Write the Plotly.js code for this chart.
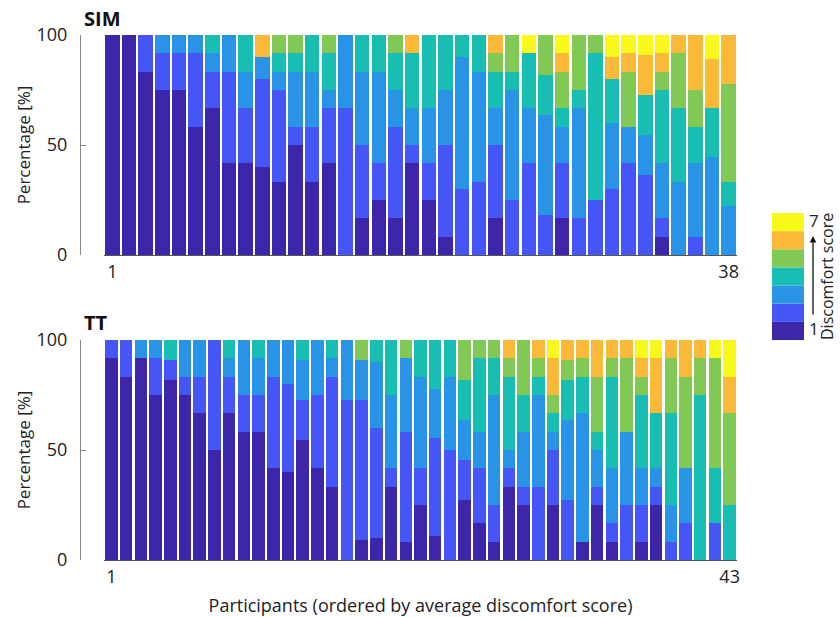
<!DOCTYPE html>
<html><head><meta charset="utf-8">
<script src="https://cdn.plot.ly/plotly-3.0.1.min.js"></script>
<style>html,body{margin:0;padding:0;background:#fff}#chart{width:840px;height:617px}</style>
</head><body><div id="chart"></div>
<script>
// Discomfort score categories (1 = lowest, 7 = highest)
const categories = ['1','2','3','4','5','6','7'];
const scoreColors = ['#3e26a8','#4655f5','#2994e6','#18bdb4','#82c855','#fbb93a','#f8f81a'];

// SIM: number of ratings per discomfort score, per participant (ordered)
const sim1 = [12,12,10,9,9,7,8,5,5,4, 4,6,4,5,0,2,3,2,5,3, 1,0,0,2,0,0,0,2,0,0, 0,0,0,1,0,0,0,0];
const sim2 = [0,0,2,2,2,4,2,5,3,4, 5,1,3,3,8,4,2,5,1,2, 5,3,4,4,3,5,2,3,2,3, 3,5,4,1,0,1,0,0];
const sim3 = [0,0,0,1,1,1,1,2,2,1, 1,3,3,1,4,4,5,2,2,3, 3,6,6,2,6,3,5,2,6,0, 3,2,2,3,4,4,4,2];
const sim4 = [0,0,0,0,0,0,1,0,2,0, 1,1,2,2,0,2,2,2,3,4, 3,1,2,2,1,3,2,1,1,8, 2,0,2,4,4,2,2,1];
const sim5 = [0,0,0,0,0,0,0,0,0,0, 1,1,0,1,0,0,0,1,0,0, 0,0,0,1,2,0,2,2,3,1, 0,3,0,1,3,2,0,4];
const sim6 = [0,0,0,0,0,0,0,0,0,1, 0,0,0,0,0,0,0,0,1,0, 0,0,0,1,0,0,0,1,0,0, 1,1,2,1,1,3,2,2];
const sim7 = [0,0,0,0,0,0,0,0,0,0, 0,0,0,0,0,0,0,0,0,0, 0,0,0,0,0,1,0,1,0,0, 1,1,1,1,0,0,1,0];

// TT: number of ratings per discomfort score, per participant (ordered)
const tt1 = [11,10,11,9,9,9,8,6,8,7, 7,5,4,6,5,4,0,1,1,4, 1,3,1,0,3,2,1,4,3,0, 3,0,1,3,1,0,1,3,0,0, 0,0,0];
const tt2 = [1,2,0,2,1,1,2,6,2,2, 2,5,4,2,4,6,8,7,5,1, 6,2,4,6,2,3,2,1,1,4, 3,3,0,1,1,3,2,1,1,2, 0,2,0];
const tt3 = [0,0,1,1,0,2,2,0,1,3, 2,2,2,2,3,1,3,2,3,4, 4,5,2,4,2,2,6,1,3,5, 1,4,7,2,3,4,2,1,2,3, 0,0,0];
const tt4 = [0,0,0,0,1,0,0,0,1,0, 1,0,0,1,0,1,0,0,1,3, 0,2,2,2,2,4,2,4,2,1, 1,2,2,1,5,0,4,3,5,0, 9,3,3];
const tt5 = [0,0,0,0,0,0,0,0,0,0, 0,0,0,0,0,0,0,1,0,0, 1,0,0,0,2,1,1,1,3,1, 1,1,1,3,1,4,1,0,3,5, 2,6,5];
const tt6 = [0,0,0,0,0,0,0,0,0,0, 0,0,0,0,0,0,0,0,0,0, 0,0,0,0,0,0,0,1,0,1, 2,1,1,2,1,1,1,3,1,2, 1,0,2];
const tt7 = [0,0,0,0,0,0,0,0,0,0, 0,0,0,0,0,0,0,0,0,0, 0,0,0,0,0,0,0,0,0,0, 1,0,0,0,0,0,1,1,0,0, 0,1,2];

const simCounts = [sim1, sim2, sim3, sim4, sim5, sim6, sim7];
const ttCounts = [tt1, tt2, tt3, tt4, tt5, tt6, tt7];

function panelTraces(counts, xa, ya, barWidth) {
  const n = counts[0].length;
  const xs = Array.from({length: n}, (_, i) => i + 1);
  const totals = xs.map((_, i) => counts.reduce((s, c) => s + c[i], 0));
  return counts.map((c, k) => ({
    type: 'bar', x: xs, y: c.map((v, i) => v / totals[i] * 100),
    xaxis: xa, yaxis: ya, width: barWidth, name: categories[k],
    marker: {color: scoreColors[k], line: {width: 0}},
    showlegend: false, hoverinfo: 'x+y+name'
  }));
}

const W = 840, H = 617;
const px = v => v / W, py = v => (H - v) / H;
const FONT = 'Open Sans, Noto Sans, sans-serif';

const data = [...panelTraces(simCounts, 'x', 'y', 0.87), ...panelTraces(ttCounts, 'x2', 'y2', 0.85)];

const xCommon = {showgrid: false, zeroline: false, showline: true, linecolor: '#555', linewidth: 1,
  ticks: '', tickfont: {size: 18, color: '#222', family: FONT}};
const yCommon = {range: [0, 100], tickvals: [0, 50, 100], anchor: 'free', position: px(80),
  showgrid: false, zeroline: false, showline: true, linecolor: '#888', linewidth: 1,
  ticks: 'inside', ticklen: 5, tickcolor: '#888', ticklabelstandoff: 9,
  tickfont: {size: 18, color: '#222', family: FONT},
  title: {text: 'Percentage [%]', font: {size: 17, color: '#222', family: FONT}, standoff: 0}};

const legendShapes = [];
const lgTop = 213, lgBot = 340, lgStep = (lgBot - lgTop) / 7;
for (let k = 0; k < 7; k++) {
  const yTop = lgTop + (6 - k) * lgStep;
  legendShapes.push({type: 'rect', xref: 'paper', yref: 'paper', x0: px(772), x1: px(804),
    y0: py(yTop + lgStep), y1: py(yTop), fillcolor: scoreColors[k], line: {width: 0}});
}

const layout = {
  width: W, height: H, margin: {l: 0, r: 0, t: 0, b: 0},
  paper_bgcolor: '#fff', plot_bgcolor: '#fff', barmode: 'stack',
  font: {family: FONT, color: '#222'},
  xaxis: Object.assign({}, xCommon, {domain: [px(104), px(737)], range: [0.5, 38.5], anchor: 'y',
    tickvals: [1, 38], ticktext: ['1', '38']}),
  yaxis: Object.assign({}, yCommon, {domain: [py(255), py(35)]}),
  xaxis2: Object.assign({}, xCommon, {domain: [px(104), px(737)], range: [0.5, 43.5], anchor: 'y2',
    tickvals: [1, 43], ticktext: ['1', '43'],
    title: {text: 'Participants (ordered by average discomfort score)', standoff: 12,
      font: {size: 18, color: '#222', family: FONT}}}),
  yaxis2: Object.assign({}, yCommon, {domain: [py(560), py(340)]}),
  shapes: legendShapes,
  annotations: [
    {text: '<b>SIM</b>', xref: 'paper', yref: 'paper', x: px(82), y: py(18), xanchor: 'left', yanchor: 'middle',
      showarrow: false, font: {size: 20, color: '#111', family: FONT}},
    {text: '<b>TT</b>', xref: 'paper', yref: 'paper', x: px(82), y: py(323), xanchor: 'left', yanchor: 'middle',
      showarrow: false, font: {size: 20, color: '#111', family: FONT}},
    {text: categories[6], xref: 'paper', yref: 'paper', x: px(814), y: py(221), xanchor: 'center', yanchor: 'middle',
      showarrow: false, font: {size: 17, color: '#222', family: FONT}},
    {text: categories[0], xref: 'paper', yref: 'paper', x: px(814), y: py(328), xanchor: 'center', yanchor: 'middle',
      showarrow: false, font: {size: 17, color: '#222', family: FONT}},
    {text: '', xref: 'paper', yref: 'paper', x: px(813), y: py(236), ax: 0, ay: 80, axref: 'pixel', ayref: 'pixel',
      showarrow: true, arrowhead: 2, arrowsize: 1, arrowwidth: 1.3, arrowcolor: '#111'},
    {text: 'Discomfort score', xref: 'paper', yref: 'paper', x: px(827), y: py(277), xanchor: 'center', yanchor: 'middle',
      textangle: -90, showarrow: false, font: {size: 16, color: '#222', family: FONT}}
  ]
};

Plotly.newPlot('chart', data, layout, {displayModeBar: false, staticPlot: true});
</script>
</body></html>
